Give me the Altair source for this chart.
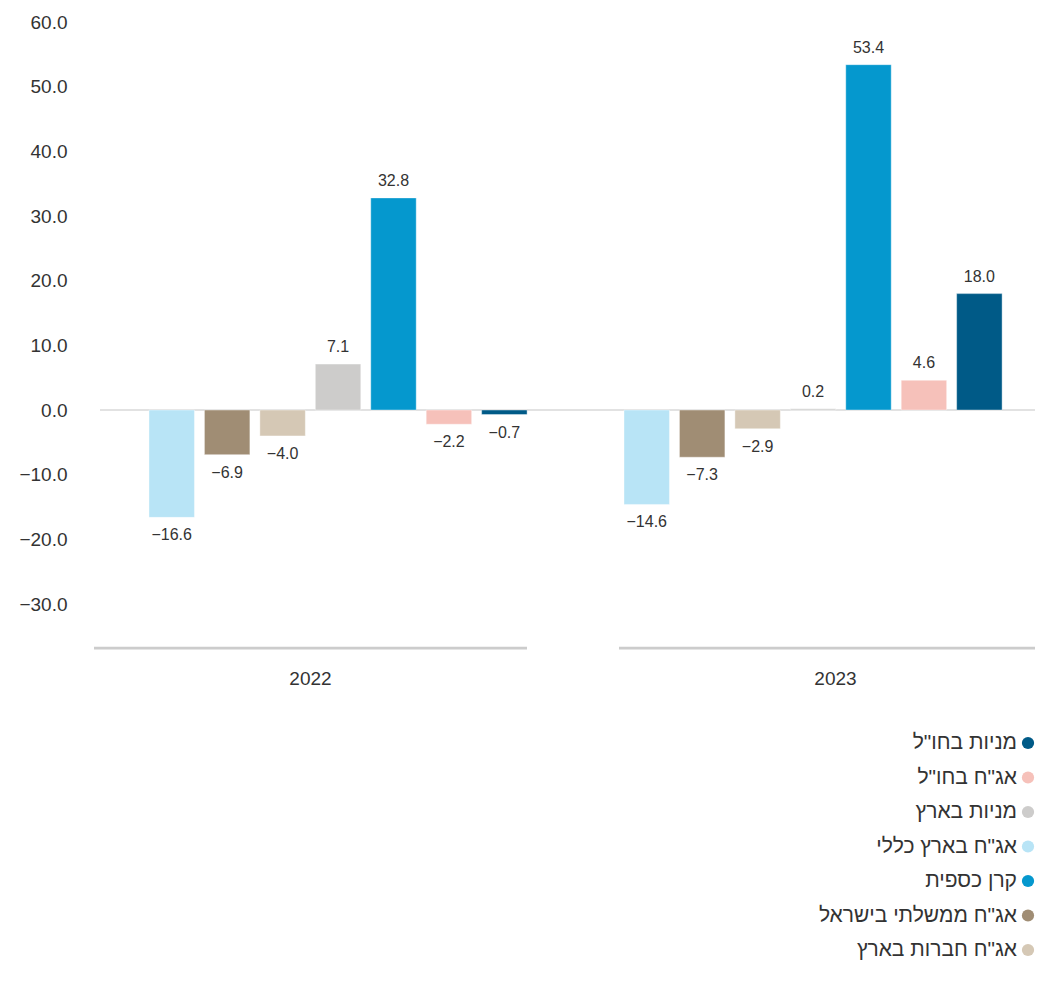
import altair as alt
import pandas as pd

# ---- data ----
years = ["2022", "2023"]
series = ['אג"ח בארץ כללי', 'אג"ח ממשלתי בישראל', 'אג"ח חברות בארץ', 'מניות בארץ',
          'קרן כספית', 'אג"ח בחו"ל', 'מניות בחו"ל']
colors = ["#b8e4f6", "#a08d74", "#d5c8b5", "#cdcccb", "#0598ce", "#f6c1ba", "#005a87"]
values_2022 = [-16.6, -6.9, -4.0, 7.1, 32.8, -2.2, -0.7]
values_2023 = [-14.6, -7.3, -2.9, 0.2, 53.4, 4.6, 18.0]
legend_order = ['מניות בחו"ל', 'אג"ח בחו"ל', 'מניות בארץ', 'אג"ח בארץ כללי',
                'קרן כספית', 'אג"ח ממשלתי בישראל', 'אג"ח חברות בארץ']
y_ticks = [-30, -20, -10, 0, 10, 20, 30, 40, 50, 60]
y_domain = [-36.8, 60]

rows = []
for yr, vals in zip(years, [values_2022, values_2023]):
    for s, v in zip(series, vals):
        rows.append({"year": yr, "series": s, "value": v})
df = pd.DataFrame(rows)

FONT = "Liberation Sans"
TXT = "#333333"
W, H = 941, 626

color = alt.Color("series:N", scale=alt.Scale(domain=series, range=colors), legend=None)

y_enc = alt.Y(
    "value:Q",
    scale=alt.Scale(domain=y_domain, nice=False, zero=False),
    axis=alt.Axis(values=y_ticks, format=".1f", title=None, domain=False, ticks=False,
                  grid=False, labelPadding=27, labelFontSize=19, labelColor=TXT,
                  labelFont=FONT),
)
x_bar = alt.X("year:N", axis=None,
              scale=alt.Scale(domain=years, paddingInner=0.204, paddingOuter=0.0925,
                              align=0.6257))
xo_bar = alt.XOffset("series:N", scale=alt.Scale(domain=series, paddingInner=0.18, paddingOuter=0))

base = alt.Chart(df)

bars = base.mark_bar(stroke="white", strokeWidth=0.4).encode(
    x=x_bar, xOffset=xo_bar, y=y_enc, color=color
)
pos_text = base.transform_filter("datum.value >= 0").mark_text(
    baseline="alphabetic", dy=-12, fontSize=16, color=TXT, font=FONT
).encode(x=x_bar, xOffset=xo_bar, y=y_enc, text=alt.Text("value:Q", format=".1f"))
neg_text = base.transform_filter("datum.value < 0").mark_text(
    baseline="top", dy=10, fontSize=16, color=TXT, font=FONT
).encode(x=x_bar, xOffset=xo_bar, y=y_enc, text=alt.Text("value:Q", format=".1f"))

zero_rule = alt.Chart(pd.DataFrame({"value": [0]})).mark_rule(
    color="#d9d9d9", strokeWidth=1.6
).encode(y=y_enc, x=alt.value(6), x2=alt.value(W))

plot_layer = alt.layer(zero_rule, bars, pos_text, neg_text)

# group baselines with the year labels
segs = alt.Chart(pd.DataFrame({"year": years})).mark_rect(color="#cccccc").encode(
    x=alt.X("year:N",
            scale=alt.Scale(domain=years, paddingInner=0.1752, paddingOuter=0, rangeMax=958),
            axis=alt.Axis(title=None, domain=False, ticks=False, labelPadding=21,
                          labelFontSize=19, labelColor=TXT, labelFont=FONT, labelAngle=0)),
    y=alt.value(H - 1.2), y2=alt.value(H + 1.4),
)

# ---- right-to-left legend below the plot ----
leg_df = pd.DataFrame({"series": legend_order})
leg_y = alt.Y("series:N", sort=legend_order, axis=None,
              scale=alt.Scale(type="point", padding=0, domain=legend_order, range=[721, 928]))
leg_pts = alt.Chart(leg_df).mark_circle(size=150, opacity=1).encode(
    y=leg_y, x=alt.value(934), color=color
)
leg_txt = alt.Chart(leg_df).mark_text(
    align="right", baseline="middle", fontSize=21, color=TXT, font=FONT
).encode(y=leg_y, x=alt.value(923), text="series:N")
legend_layer = alt.layer(leg_pts, leg_txt)

chart = alt.layer(segs, plot_layer, legend_layer).resolve_scale(
    x="independent", y="independent"
).properties(
    width=W, height=H,
    autosize=alt.AutoSizeParams(type="none"),
    padding={"left": 86, "top": 14, "right": 0, "bottom": 318},
).configure_view(stroke=None)

chart.save("out.html", embed_options={"renderer": "svg", "actions": False})
